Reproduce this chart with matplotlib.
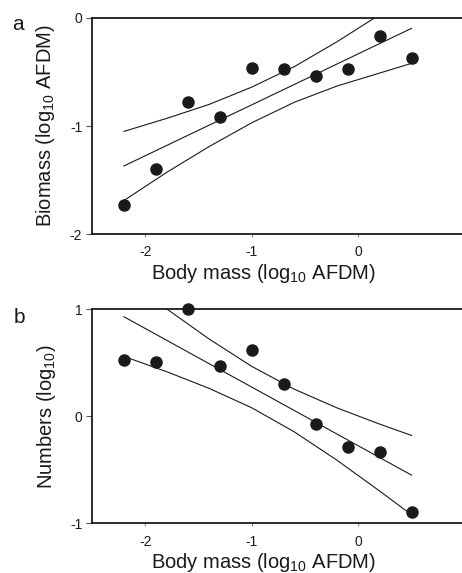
import numpy as np
import matplotlib
matplotlib.use("Agg")
import matplotlib.pyplot as plt

plt.rcParams['font.family'] = ['Liberation Sans', 'DejaVu Sans']
plt.rcParams['mathtext.fontset'] = 'custom'
plt.rcParams['mathtext.rm'] = 'Liberation Sans'
plt.rcParams['mathtext.default'] = 'regular'

#%%----- data ---------------------------------------------------------------
body_mass = [-2.2, -1.9, -1.6, -1.3, -1.0, -0.7, -0.4, -0.1, 0.2, 0.5]
biomass = [-1.73, -1.40, -0.78, -0.92, -0.46, -0.475, -0.54, -0.47, -0.17, -0.37]
numbers = [0.524, 0.505, 1.0, 0.468, 0.617, 0.301, -0.074, -0.29, -0.33, -0.89]

# fitted line and 95% bands, read at these x positions
fit_x = [-2.2, -1.8, -1.4, -1.0, -0.6, -0.2, 0.2, 0.5]
bio_fit = [-1.370, -1.181, -0.992, -0.804, -0.615, -0.426, -0.237, -0.096]
bio_up = [-1.05, -0.93, -0.80, -0.64, -0.45, -0.22, 0.03, 0.22]
bio_lo = [-1.69, -1.43, -1.19, -0.97, -0.78, -0.63, -0.51, -0.42]
num_fit = [0.928, 0.709, 0.490, 0.272, 0.053, -0.166, -0.385, -0.549]
num_up = [1.298, 1.002, 0.720, 0.465, 0.252, 0.078, -0.073, -0.179]
num_lo = [0.558, 0.416, 0.260, 0.079, -0.146, -0.410, -0.697, -0.919]

xticks = [-2, -1, 0, 1]
ink = '#1a1a1a'

fig = plt.figure(figsize=(4.62, 5.73), dpi=100)
ax_a = fig.add_axes([0.1991, 0.5916, 0.807, 0.377])
ax_b = fig.add_axes([0.1991, 0.0864, 0.807, 0.3743])


def style(ax, ylim, yticks):
    ax.set_xlim(-2.5, 1.0)
    ax.set_ylim(*ylim)
    ax.set_xticks(xticks)
    ax.set_yticks(yticks)
    for s in ['left', 'bottom', 'top', 'right']:
        ax.spines[s].set_color(ink)
        ax.spines[s].set_linewidth(1.3)
    ax.tick_params(axis='y', direction='out', length=4.5, width=0.8,
                   color='#555555', labelsize=10, pad=2.5, labelcolor=ink)
    ax.tick_params(axis='x', direction='out', length=2, width=0.8,
                   color='#888888', labelsize=10, pad=6, labelcolor=ink)
    ax.set_xlabel('Body mass (log$_{10}$ AFDM)', fontsize=14.5, color=ink)
    ax.xaxis.set_label_coords(0.461, -0.13)


#%%----- panel a ------------------------------------------------------------
ax = ax_a
ax.plot(fit_x, bio_fit, color=ink, lw=0.8)
ax.plot(fit_x, bio_up, color=ink, lw=0.8)
ax.plot(fit_x, bio_lo, color=ink, lw=0.8)
ax.plot(body_mass, biomass, 'o', color=ink, ms=8, clip_on=False, zorder=5)
style(ax, (-2, 0), [-2, -1, 0])
ax.set_yticklabels(['-2', '-1', '0'])
ax.set_xticklabels(['-2', '-1', '0', '1'])
ax.set_ylabel('Biomass (log$_{10}$ AFDM)', fontsize=14.5, color=ink, labelpad=9)
fig.text(0.027, 0.948, 'a', fontsize=15, color=ink)

#%%----- panel b ------------------------------------------------------------
ax = ax_b
ax.plot(fit_x, num_fit, color=ink, lw=0.8)
ax.plot(fit_x, num_up, color=ink, lw=0.8)
ax.plot(fit_x, num_lo, color=ink, lw=0.8)
ax.plot(body_mass, numbers, 'o', color=ink, ms=8, clip_on=False, zorder=5)
style(ax, (-1, 1), [-1, 0, 1])
ax.set_yticklabels(['-1', '0', '1'])
ax.set_xticklabels(['-2', '-1', '0', '1'])
ax.set_ylabel('Numbers (log$_{10}$)', fontsize=14.5, color=ink, labelpad=9)
fig.text(0.030, 0.437, 'b', fontsize=15, color=ink)

plt.savefig('out.png', dpi=100)
